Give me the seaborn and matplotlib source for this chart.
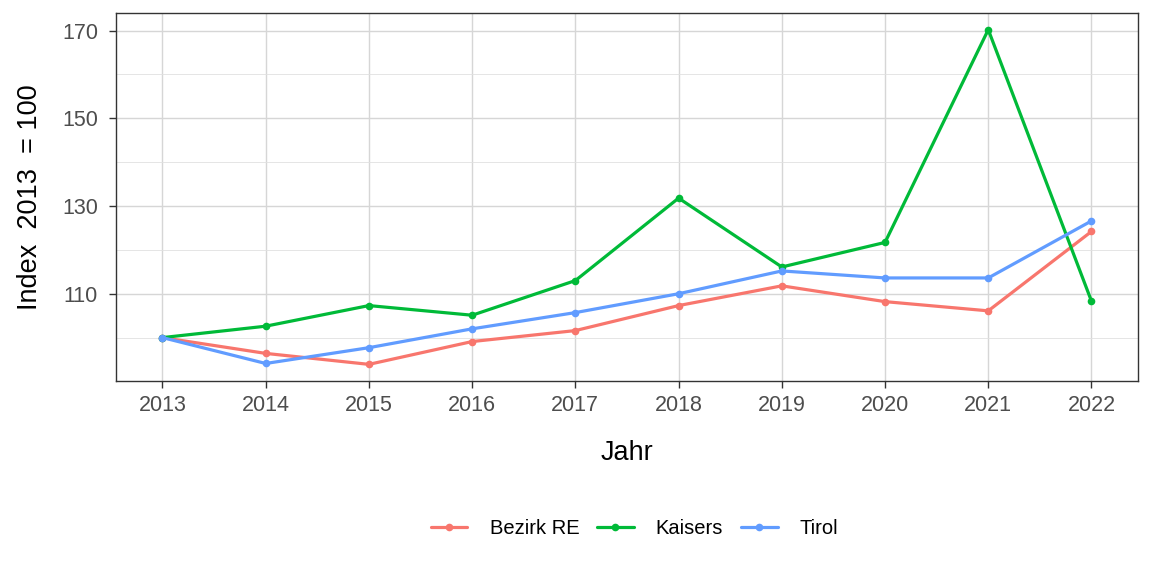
import matplotlib
matplotlib.use("Agg")
import matplotlib.pyplot as plt
import seaborn as sns
import pandas as pd
from matplotlib.ticker import FixedLocator
from matplotlib.lines import Line2D

years = [2013, 2014, 2015, 2016, 2017, 2018, 2019, 2020, 2021, 2022]
bezirk_re = [100.0, 96.4, 93.9, 99.1, 101.6, 107.3, 111.8, 108.2, 106.1, 124.2]
kaisers = [100.0, 102.6, 107.3, 105.1, 113.0, 131.8, 116.1, 121.7, 170.2, 108.3]
tirol = [100.0, 94.1, 97.7, 102.0, 105.7, 110.0, 115.2, 113.6, 113.6, 126.6]
series_names = ["Bezirk RE", "Kaisers", "Tirol"]
colors = ["#F8766D", "#00BA38", "#619CFF"]
y_ticks = [110, 130, 150, 170]
y_minor = [100, 120, 140, 160]

df = pd.concat([
    pd.DataFrame({"Jahr": years, "Index": vals, "Region": name})
    for name, vals in zip(series_names, [bezirk_re, kaisers, tirol])
])

sns.set_theme(style="white")
plt.rcParams["font.family"] = ["Liberation Sans", "DejaVu Sans"]

fig = plt.figure(figsize=(11.52, 5.76), dpi=100)
ax = fig.add_axes([0.1007, 0.3385, 0.8871, 0.6389])

sns.lineplot(data=df, x="Jahr", y="Index", hue="Region", hue_order=series_names,
             palette=colors, marker="o", markersize=5.5, markeredgewidth=0,
             linewidth=2.3, ax=ax, legend=False, zorder=3)

ax.set_xlim(2012.55, 2022.45)
ax.set_ylim(90.1, 174.0)
ax.xaxis.set_major_locator(FixedLocator(years))
ax.set_xticklabels([str(y) for y in years])
ax.yaxis.set_major_locator(FixedLocator(y_ticks))
ax.yaxis.set_minor_locator(FixedLocator(y_minor))

ax.grid(which="major", color="#D6D6D6", linewidth=1.0)
ax.grid(which="minor", axis="y", color="#E0E0E0", linewidth=0.6)
ax.set_axisbelow(True)
for s in ax.spines.values():
    s.set_color("#333333")
    s.set_linewidth(1.0)

ax.tick_params(axis="both", which="major", length=5, width=1, color="#333333",
               labelsize=15.5, labelcolor="#4D4D4D")
ax.tick_params(axis="x", which="major", pad=5)
ax.tick_params(axis="y", which="major", pad=8)
ax.tick_params(axis="y", which="minor", length=0)
ax.tick_params(bottom=True, left=True)

ax.set_xlabel("Jahr", fontsize=19.5, color="black", labelpad=17)
ax.set_ylabel("Index  2013  = 100", fontsize=19.5, color="black", labelpad=14)

handles = [Line2D([0], [0], color=c, linewidth=2.3, marker="o", markersize=5.5,
                  markeredgewidth=0) for c in colors]
leg = fig.legend(handles, series_names, loc="center", bbox_to_anchor=(0.551, 0.083),
                 ncol=3, frameon=False, fontsize=14.5, handlelength=1.8,
                 columnspacing=0.9, handletextpad=1.1)
for t in leg.get_texts():
    t.set_color("black")

fig.savefig("out.png", dpi=100)
